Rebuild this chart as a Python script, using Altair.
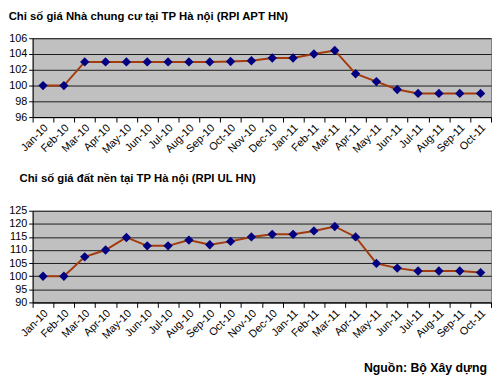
import altair as alt
import pandas as pd

months = ["Jan-10", "Feb-10", "Mar-10", "Apr-10", "May-10", "Jun-10", "Jul-10", "Aug-10",
          "Sep-10", "Oct-10", "Nov-10", "Dec-10", "Jan-11", "Feb-11", "Mar-11", "Apr-11",
          "May-11", "Jun-11", "Jul-11", "Aug-11", "Sep-11", "Oct-11"]
apt_values = [100, 100, 103, 103, 103, 103, 103, 103, 103, 103.05, 103.15, 103.5,
              103.5, 104.0, 104.45, 101.5, 100.5, 99.5, 99, 99, 99, 99]
ul_values = [100, 100, 107.4, 110, 114.8, 111.6, 111.6, 113.8, 112, 113.3, 115, 116,
             116, 117.3, 119, 115, 104.9, 103.1, 102, 102, 102, 101.4]

title_apt = "Chỉ số giá Nhà chung cư tại TP Hà nội (RPI APT HN)"
title_ul = "Chỉ số giá đất nền tại TP Hà nội (RPI UL HN)"
source = "Nguồn: Bộ Xây dựng"

df_apt = pd.DataFrame({"month": months, "value": apt_values})
df_ul = pd.DataFrame({"month": months, "value": ul_values})

FONT = "Liberation Sans"
LINE = "#a33a0c"
MARK = "#000080"


def panel(df, domain, step, height, title, offset, dx):
    x = alt.X("month:N", sort=months, title=None,
              scale=alt.Scale(paddingInner=0, paddingOuter=0),
              axis=alt.Axis(labelAngle=-45, labelAlign="right", labelBaseline="middle",
                            labelFontSize=11, labelFont=FONT, labelColor="#000",
                            tickBand="extent", tickColor="#000", tickSize=5,
                            domainColor="#000", labelPadding=4, labelOffset=3,
                            grid=False))
    y = alt.Y("value:Q", title=None,
              scale=alt.Scale(domain=domain, nice=False, zero=False),
              axis=alt.Axis(values=list(range(domain[0], domain[1] + 1, step)),
                            labelFontSize=11, labelFont=FONT, labelColor="#000",
                            tickColor="#000", tickSize=4, labelPadding=2,
                            domainColor="#000", grid=True, gridColor="#1a1a1a",
                            gridWidth=1))
    base = alt.Chart(df).encode(x=x, y=y)
    line = base.mark_line(color=LINE, strokeWidth=2)
    pts = base.mark_point(shape="diamond", filled=True, color=MARK, size=90, opacity=1)
    return alt.layer(line, pts).properties(
        width=465, height=height,
        view=alt.ViewBackground(fill="#c0c0c0", stroke="#808080", strokeWidth=1),
        title=alt.TitleParams(title, anchor="start", fontSize=11.5, font=FONT,
                              fontWeight="bold", color="#000", offset=offset, dx=dx),
    )


top = panel(df_apt, [96, 106], 2, 80, title_apt, 10, 0)
bottom = panel(df_ul, [90, 125], 5, 93, title_ul, 21, 11)

chart = alt.vconcat(top, bottom, spacing=17).properties(
    padding={"left": 0, "top": 0, "right": 0, "bottom": 0},
    title=alt.TitleParams(source, orient="bottom", anchor="end", fontSize=12.5, font=FONT,
                          fontWeight="bold", color="#000", offset=22, dx=-5),
).configure(background="white")

chart.save("out.html", embed_options={"renderer": "svg", "actions": False})
